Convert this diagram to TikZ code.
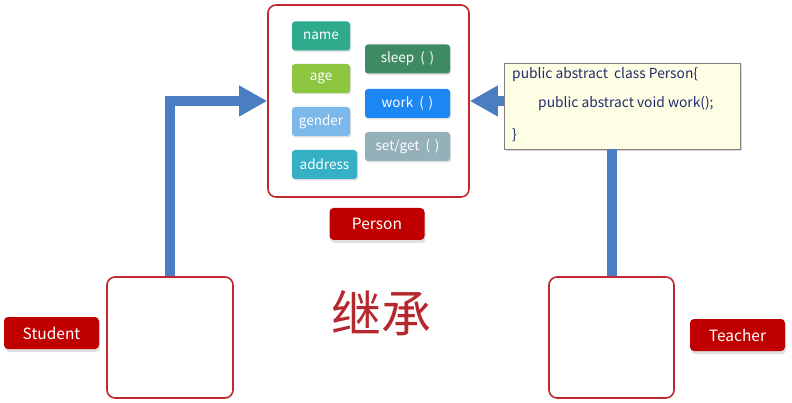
\documentclass[tikz,border=0pt]{standalone}
\usepackage{fontspec}
\setmainfont{Noto Sans CJK SC}
\usetikzlibrary{arrows.meta,shadows,calc}
\definecolor{frame}{HTML}{C0282D}
\definecolor{labred}{HTML}{C00000}
\definecolor{arrowblue}{HTML}{4A7EC0}
\definecolor{cname}{HTML}{2EAA8C}
\definecolor{cage}{HTML}{8CC63F}
\definecolor{cgender}{HTML}{7DB8EA}
\definecolor{caddress}{HTML}{35B0C4}
\definecolor{csleep}{HTML}{3E8B63}
\definecolor{cwork}{HTML}{1C86F2}
\definecolor{cset}{HTML}{94B1BA}
\definecolor{codefill}{HTML}{FEFEE4}
\definecolor{codetext}{HTML}{232C6E}
\definecolor{hanzi}{HTML}{B5282D}
\tikzset{
  bigbox/.style={draw=frame, line width=1.6pt, rounded corners=8pt, fill=white, inner sep=0pt},
  chip/.style={rounded corners=3pt, text=white, font=\fontsize{13.5}{15}\selectfont, inner sep=0pt, minimum height=29pt,
    drop shadow={shadow xshift=1.2pt, shadow yshift=-1.5pt, opacity=0.25}},
  label/.style={fill=labred, rounded corners=4pt, text=white, font=\fontsize{15.5}{17}\selectfont, inner sep=0pt,
    minimum width=95pt, minimum height=32pt, drop shadow={shadow xshift=1pt, shadow yshift=-3pt, opacity=0.25}},
  codeline/.style={anchor=west, text=codetext, font=\fontsize{13.8}{15}\selectfont, inner sep=0pt},
  bluearrow/.style={draw=arrowblue, line width=10pt, -{Triangle[length=28pt,width=29pt]}},
  blueline/.style={draw=arrowblue, line width=10pt},
}
\newcommand{\parens}{\hspace{0.45em}(\hspace{0.35em})}
\begin{document}
\begin{tikzpicture}[x=1pt,y=-1pt]
\useasboundingbox (0,0) rectangle (792,403);
% big boxes
\node[bigbox, minimum width=201pt, minimum height=192pt] (person) at (368.5,101) {};
\node[bigbox, minimum width=126pt, minimum height=121pt] (student) at (170,337.5) {};
\node[bigbox, minimum width=125pt, minimum height=121pt] (teacher) at (611.5,337.5) {};
% chips
\node[chip, fill=cname, minimum width=58pt] (name) at (321,36) {name};
\node[chip, fill=cage, minimum width=58pt] (age) at (321,78.5) {age};
\node[chip, fill=cgender, minimum width=58pt] (gender) at (321,121.5) {gender};
\node[chip, fill=caddress, minimum width=65pt] (address) at (324.5,164.5) {address};
\node[chip, fill=csleep, minimum width=85pt] (sleep) at (407.5,59) {sleep\parens};
\node[chip, fill=cwork, minimum width=85pt] (work) at (407.5,103.5) {work\parens};
\node[chip, fill=cset, minimum width=85pt] (setget) at (407.5,146.5) {set/get\parens};
% labels
\node[label] (plabel) at (377,224) {Person};
\node[label] (slabel) at (51.5,333) {Student};
\node[label] (tlabel) at (737.5,335) {Teacher};
% code box
\node[draw=black!50, fill=codefill, line width=0.8pt, minimum width=236pt, minimum height=86pt, inner sep=0pt,
  drop shadow={shadow xshift=2pt, shadow yshift=-2pt, opacity=0.3}] (code) at (622,106) {};
\node[codeline] (c1) at (512,75) {public abstract\ \ class Person\{};
\node[codeline] (c2) at (538,103) {public abstract void work();};
\node[codeline] (c3) at (512,135) {\}};
% arrows
\draw[bluearrow] (student.north) |- (person.west);
\draw[blueline] (teacher.north) -- (teacher.north |- code.south);
\draw[bluearrow] (code.west |- person.east) -- (person.east);
% hanzi
\node[text=hanzi, font=\fontsize{50}{54}\selectfont, inner sep=0pt] (jicheng) at (381,313) {继承};
\end{tikzpicture}
\end{document}
